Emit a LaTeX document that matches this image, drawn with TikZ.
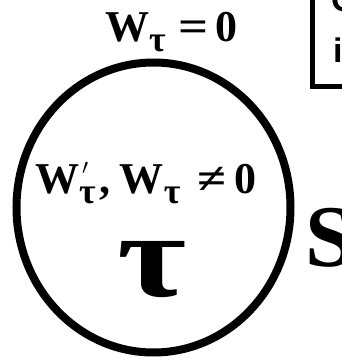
\documentclass[tikz,border=0pt]{standalone}
\usepackage{fontspec}
\setmainfont{Liberation Serif}
\setsansfont{Liberation Sans}
% subscript tau, prime and relation signs
\newcommand{\tsub}{\raisebox{-10pt}{\fontsize{36pt}{36pt}\selectfont τ}}
\newcommand{\pmark}{\rlap{\hspace{3pt}\raisebox{18pt}{\scalebox{2.2}{\normalsize$\prime$}}}}
\newcommand{\releq}[1]{\scalebox{1.2}[1]{#1}}

\begin{document}
\begin{tikzpicture}[x=1pt,y=1pt,
  eqtext/.style={font=\fontsize{44pt}{44pt}\selectfont\bfseries, inner sep=0pt, anchor=base west},
  boxtext/.style={font=\fontsize{34pt}{34pt}\sffamily\bfseries, inner sep=0pt, anchor=base west}]
  \useasboundingbox (0,0) rectangle (342,357);
  \clip (0,0) rectangle (342,357);

  % Region boundary
  \draw[line width=8pt] (153.5,149.5) ellipse [x radius=137, y radius=145];

  % Conditions
  \node[eqtext] (outer) at (105,315) {W\tsub\hspace{13pt}\releq{=}\hspace{7pt}0};
  \node[eqtext] (inner) at (35,164) {W\pmark\tsub\hspace{4pt},\hspace{9pt}W\tsub\hspace{17pt}\releq{≠}\hspace{8pt}0};
  \node[inner sep=0pt, anchor=base, text height=56pt, text depth=0pt,
    font=\fontsize{120pt}{120pt}\selectfont\bfseries] (tau) at (152,60) {\scalebox{1.25}[1]{τ}};
  \node[font=\fontsize{88pt}{88pt}\selectfont\bfseries, inner sep=0pt, anchor=base west] (surf) at (305,90) {S};

  % Side box (cut off)
  \draw[line width=4.5pt] (312.5,270.5) rectangle (380,380);
  \node[boxtext] (top) at (331,345) {O};
  \node[boxtext] (low) at (333,294) {i};
\end{tikzpicture}
\end{document}
